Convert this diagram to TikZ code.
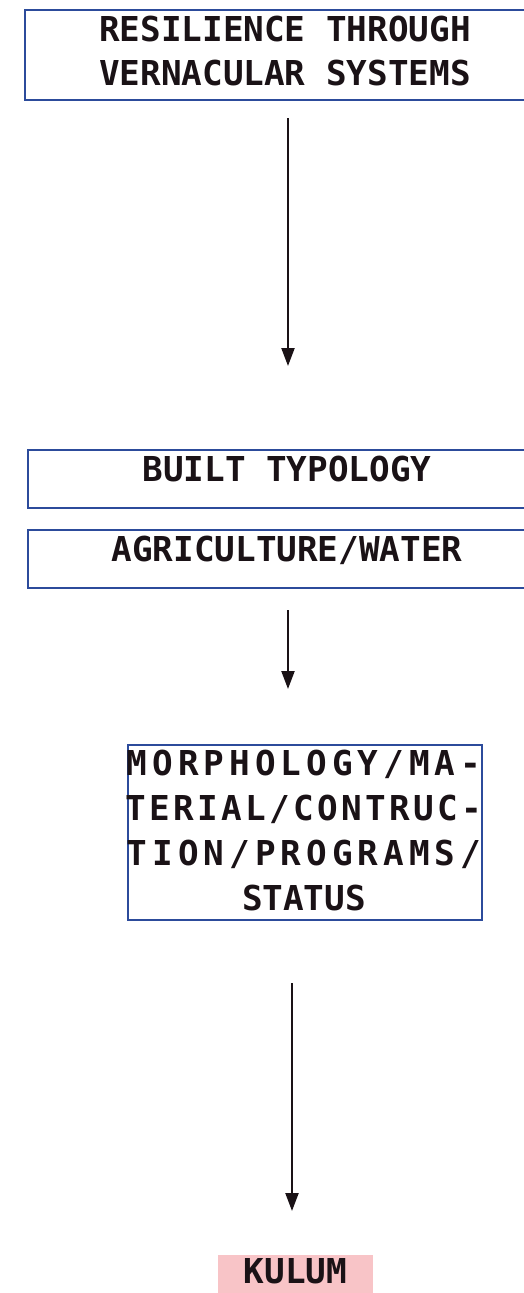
\documentclass[tikz,border=0pt]{standalone}
\usepackage{fontspec}
\newfontfamily\boxfont{DejaVu Sans Mono}
\newfontfamily\spacedA[LetterSpace=14.6]{DejaVu Sans Mono}
\newfontfamily\spacedB[LetterSpace=9.8]{DejaVu Sans Mono}
\usetikzlibrary{arrows.meta}
\definecolor{ink}{HTML}{1A1216}
\definecolor{framecol}{HTML}{2C4B9B}
\definecolor{pinkfill}{HTML}{F8C4C7}
\tikzset{
  frame/.style={draw=framecol, line width=2.3pt, inner sep=0pt},
  label text/.style={text=ink, inner sep=0pt, align=center,
    font=\boxfont\bfseries\fontsize{34.3}{44}\selectfont},
  arr/.style={draw=ink, line width=2.2pt, -{Triangle[length=18pt,width=13pt]}},
}
\begin{document}
\begin{tikzpicture}[x=1pt,y={(0pt,-1pt)}]
\useasboundingbox (0,0) rectangle (524,1293);
\clip (0,0) rectangle (524,1293);
% boxes
\node[frame, minimum width=520pt, minimum height=90pt] (top) at (285,55) {};
\node[label text] (toptext) at (285,51) {RESILIENCE THROUGH\\VERNACULAR SYSTEMS};
\node[frame, minimum width=518pt, minimum height=58pt] (built) at (287,479) {};
\node[label text, text height=25pt, text depth=0pt] (builttext) at (287,469) {BUILT TYPOLOGY};
\node[frame, minimum width=518pt, minimum height=58pt] (agri) at (287,559) {};
\node[label text, text height=25pt, text depth=0pt] (agritext) at (287,549) {AGRICULTURE/WATER};
\node[frame, minimum width=354pt, minimum height=175pt] (morph) at (305,832.5) {};
\node[label text, font=\boxfont\bfseries\fontsize{34.3}{45}\selectfont] (morphtext) at (304,830.5)
  {{\spacedA\bfseries MORPHOLOGY/MA-}\\{\spacedB\bfseries TERIAL/CONTRUC-}\\{\spacedA\bfseries TION/PROGRAMS/}\\STATUS};
\node[fill=pinkfill, inner sep=0pt, minimum width=155pt, minimum height=38pt,
  text=ink, font=\boxfont\bfseries\fontsize{34.3}{44}\selectfont,
  text height=25pt, text depth=7pt] (kulum) at (295.5,1274) {KULUM};
% arrows
\coordinate (a1s) at (288,118);
\coordinate (a1e) at (288,366);
\coordinate (a2s) at (288,610);
\coordinate (a2e) at (288,689);
\coordinate (a3s) at (292,983);
\coordinate (a3e) at (292,1211);
\draw[arr] (a1s) -- (a1e);
\draw[arr] (a2s) -- (a2e);
\draw[arr] (a3s) -- (a3e);
\end{tikzpicture}
\end{document}
